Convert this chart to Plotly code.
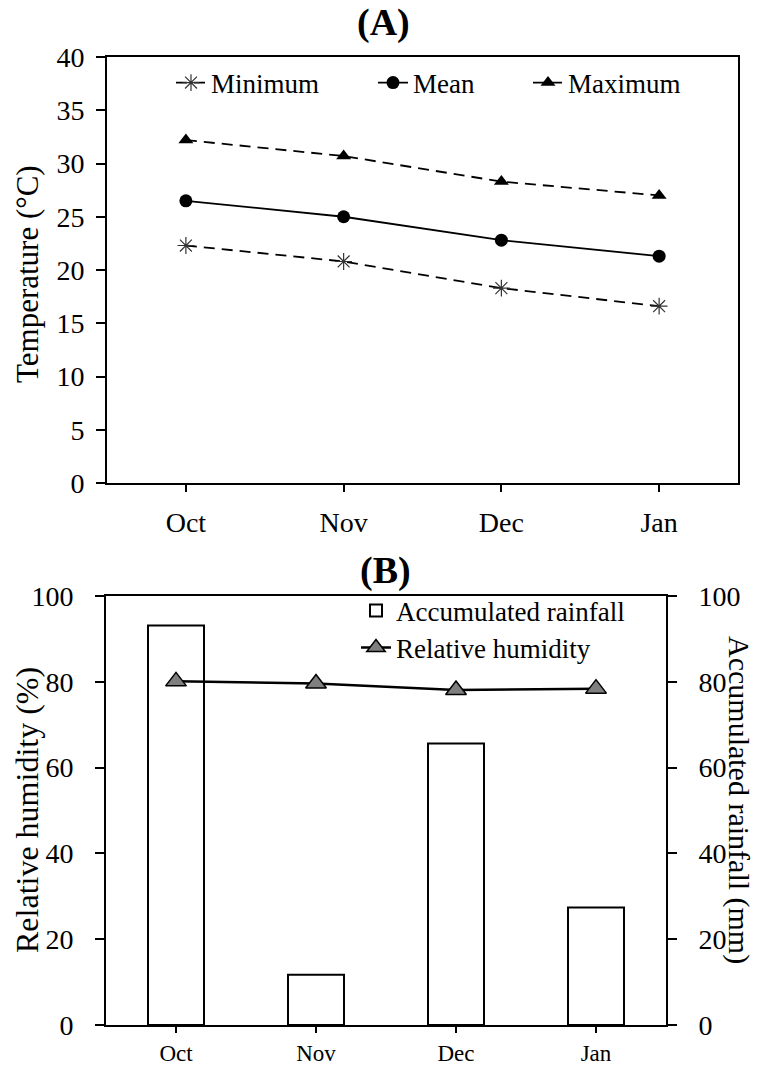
import plotly.graph_objects as go

# ---------------- data ----------------
months = ["Oct", "Nov", "Dec", "Jan"]
temp_min = [22.3, 20.8, 18.3, 16.6]
temp_mean = [26.5, 25.0, 22.8, 21.3]
temp_max = [32.2, 30.7, 28.3, 27.0]
rainfall = [93.1, 11.7, 65.6, 27.4]
humidity = [80.1, 79.6, 78.1, 78.4]
temp_ticks = [0, 5, 10, 15, 20, 25, 30, 35, 40]
pct_ticks = [0, 20, 40, 60, 80, 100]

FONT = "Liberation Serif"
W, H = 758, 1066

def px(x):
    return x / W

def py(y):
    return 1 - y / H

fig = go.Figure()

# ---------------- panel A ----------------
fig.add_trace(go.Scatter(
    x=months, y=temp_min, name="Minimum", mode="lines+markers",
    line=dict(color="black", width=1.8, dash="11px,7px"),
    marker=dict(symbol="asterisk-open", size=14, color="#333",
                line=dict(color="#333", width=1.2)),
    xaxis="x", yaxis="y", legend="legend"))
fig.add_trace(go.Scatter(
    x=months, y=temp_mean, name="Mean", mode="lines+markers",
    line=dict(color="black", width=1.8),
    marker=dict(symbol="circle", size=13, color="black"),
    xaxis="x", yaxis="y", legend="legend2"))
fig.add_trace(go.Scatter(
    x=months, y=temp_max, name="Maximum", mode="lines+markers",
    line=dict(color="black", width=1.8, dash="11px,7px"),
    marker=dict(symbol="triangle-up", size=13, color="black"),
    xaxis="x", yaxis="y", legend="legend3"))

# ---------------- panel B ----------------
fig.add_trace(go.Bar(
    x=months, y=rainfall, name="Accumulated rainfall", width=0.4,
    marker=dict(color="rgba(255,255,255,0)", line=dict(color="black", width=2)),
    xaxis="x2", yaxis="y3", legend="legend4"))
fig.add_trace(go.Scatter(
    x=months, y=humidity, name="Relative humidity", mode="lines+markers",
    line=dict(color="black", width=2.5),
    marker=dict(symbol="triangle-up", size=18, color="#7f7f7f",
                line=dict(color="black", width=1.5)),
    xaxis="x2", yaxis="y2", legend="legend5"))

axis_common = dict(showline=True, linecolor="black", linewidth=1.8,
                   ticks="outside", tickcolor="black", tickwidth=1.5,
                   showgrid=False, zeroline=False, automargin=False)

leg_common = dict(font=dict(family=FONT, size=27, color="black"),
                  bgcolor="rgba(0,0,0,0)", borderwidth=0,
                  xanchor="left", yanchor="middle", visible=True)

def label(text, x, y, size, angle=0, bold=False):
    return dict(text=f"<b>{text}</b>" if bold else text,
                x=px(x), y=py(y), xref="paper", yref="paper",
                xanchor="center", yanchor="middle", showarrow=False,
                textangle=angle, font=dict(family=FONT, size=size, color="black"))

fig.update_layout(
    width=W, height=H,
    margin=dict(l=0, r=0, t=0, b=0, autoexpand=False),
    paper_bgcolor="white", plot_bgcolor="white",
    font=dict(family=FONT, color="black"),
    showlegend=True,
    xaxis=dict(domain=[px(107), px(738)], anchor="y", range=[-0.5, 3.5],
               type="category", mirror=True, ticklen=7,
               tickfont=dict(family=FONT, size=28), ticklabelstandoff=6,
               **axis_common),
    yaxis=dict(domain=[py(483), py(57)], anchor="x", range=[0, 40],
               tickvals=temp_ticks, mirror=True, ticklen=9,
               tickfont=dict(family=FONT, size=28), ticklabelstandoff=6,
               **axis_common),
    xaxis2=dict(domain=[px(106), px(666)], anchor="y2", range=[-0.5, 3.5],
                type="category", mirror=True, ticklen=6,
                tickfont=dict(family=FONT, size=23), ticklabelstandoff=0,
                **axis_common),
    yaxis2=dict(domain=[py(1025), py(596)], anchor="x2", range=[0, 100],
                tickvals=pct_ticks, ticklen=9,
                tickfont=dict(family=FONT, size=28), ticklabelstandoff=16,
                **axis_common),
    yaxis3=dict(domain=[py(1025), py(596)], anchor="x2", overlaying="y2",
                side="right", range=[0, 100], tickvals=pct_ticks, ticklen=9,
                tickfont=dict(family=FONT, size=28), ticklabelstandoff=16,
                **axis_common),
    legend=dict(x=px(171), y=py(83), orientation="h", **leg_common),
    legend2=dict(x=px(373), y=py(83), orientation="h", **leg_common),
    legend3=dict(x=px(528), y=py(83), orientation="h", **leg_common),
    legend4=dict(x=px(356), y=py(611), orientation="v", **leg_common),
    legend5=dict(x=px(356), y=py(648), orientation="v", **leg_common),
    annotations=[
        label("(A)", 383, 22, 38, bold=True),
        label("(B)", 385, 570, 38, bold=True),
        label("Temperature (°C)", 28, 274, 31, angle=-90),
        label("Relative humidity (%)", 27, 810, 32, angle=-90),
        label("Accumulated rainfall (mm)", 739, 800, 30, angle=90),
    ],
)

fig.write_html("out.html")
